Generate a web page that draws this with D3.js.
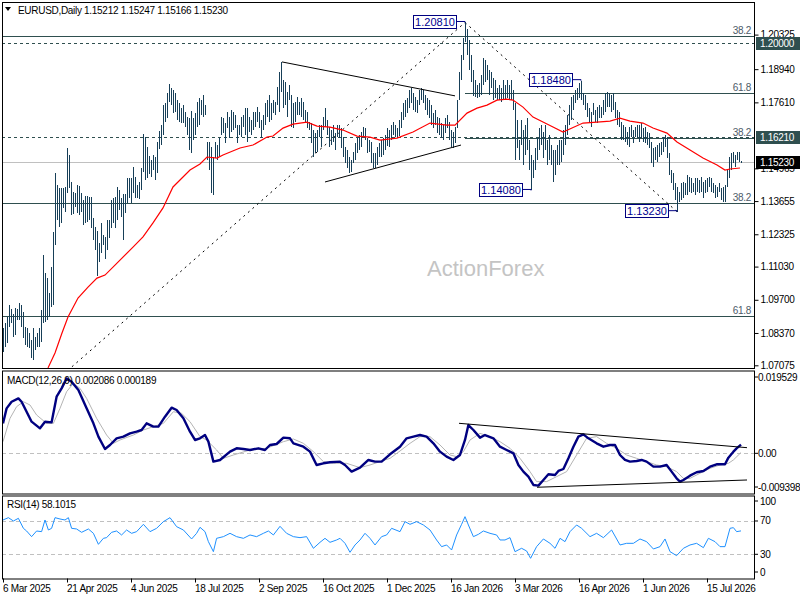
<!DOCTYPE html>
<html><head><meta charset="utf-8">
<script src="https://cdn.jsdelivr.net/npm/d3@7"></script>
<style>
body{margin:0;background:#fff}
svg text{font-family:"Liberation Sans",Arial,sans-serif;font-size:10px;letter-spacing:-0.3px}
</style></head><body>
<svg id="c" width="800" height="600"></svg>
<script>
// ---------- DATA ----------
const symbolTitle = "EURUSD,Daily";
const lastOHLC = [1.15212, 1.15247, 1.15166, 1.15230];
const highs = [
1.0857,1.0877,1.0901,1.0949,1.0933,1.0913,1.0937,1.0933,1.0957,1.0949,
1.0921,1.0861,1.0857,1.0837,1.0809,1.0857,1.0821,1.0837,1.0857,1.0929,
1.1149,1.1077,1.1057,1.0997,1.1101,1.1242,1.1478,1.1430,1.1418,1.1418,
1.1418,1.1422,1.1578,1.1550,1.1442,1.1402,1.1398,1.1430,1.1426,1.1398,
1.1370,1.1386,1.1386,1.1382,1.1382,1.1298,1.1262,1.1246,1.1198,1.1278,
1.1230,1.1222,1.1290,1.1290,1.1370,1.1378,1.1382,1.1422,1.1410,1.1378,
1.1394,1.1394,1.1458,1.1458,1.1458,1.1502,1.1462,1.1430,1.1442,1.1498,
1.1634,1.1622,1.1582,1.1546,1.1530,1.1550,1.1542,1.1602,1.1646,1.1670,
1.1750,1.1758,1.1799,1.1835,1.1819,1.1811,1.1799,1.1770,1.1758,1.1738,
1.1750,1.1722,1.1702,1.1698,1.1726,1.1698,1.1718,1.1762,1.1779,1.1770,
1.1791,1.1750,1.1602,1.1602,1.1582,1.1542,1.1602,1.1590,1.1618,1.1702,
1.1698,1.1678,1.1722,1.1702,1.1730,1.1722,1.1710,1.1670,1.1670,1.1702,
1.1710,1.1738,1.1738,1.1702,1.1690,1.1722,1.1722,1.1742,1.1722,1.1690,
1.1710,1.1758,1.1770,1.1791,1.1758,1.1770,1.1762,1.1823,1.1883,1.1923,
1.1851,1.1843,1.1803,1.1831,1.1791,1.1758,1.1762,1.1783,1.1762,1.1779,
1.1762,1.1730,1.1722,1.1682,1.1678,1.1650,1.1638,1.1650,1.1670,1.1670,
1.1702,1.1738,1.1690,1.1662,1.1650,1.1670,1.1638,1.1670,1.1670,1.1658,
1.1622,1.1582,1.1570,1.1542,1.1530,1.1562,1.1598,1.1618,1.1630,1.1642,
1.1662,1.1658,1.1618,1.1610,1.1602,1.1558,1.1558,1.1582,1.1598,1.1610,
1.1618,1.1630,1.1658,1.1650,1.1670,1.1682,1.1670,1.1658,1.1690,1.1722,
1.1758,1.1770,1.1779,1.1811,1.1819,1.1799,1.1783,1.1770,1.1811,1.1819,
1.1811,1.1791,1.1779,1.1770,1.1750,1.1718,1.1730,1.1702,1.1698,1.1678,
1.1670,1.1698,1.1710,1.1682,1.1650,1.1642,1.1662,1.1770,1.1883,1.1951,
1.2019,1.2081,1.2055,1.2011,1.1951,1.1891,1.1851,1.1831,1.1839,1.1871,
1.1939,1.1931,1.1911,1.1891,1.1883,1.1859,1.1851,1.1819,1.1831,1.1819,
1.1851,1.1831,1.1851,1.1831,1.1851,1.1811,1.1758,1.1690,1.1610,1.1690,
1.1650,1.1670,1.1698,1.1610,1.1550,1.1530,1.1578,1.1618,1.1658,1.1670,
1.1642,1.1670,1.1610,1.1630,1.1590,1.1570,1.1570,1.1590,1.1610,1.1610,
1.1650,1.1670,1.1710,1.1750,1.1783,1.1791,1.1811,1.1819,1.1839,1.1848,
1.1799,1.1791,1.1758,1.1738,1.1722,1.1758,1.1730,1.1742,1.1750,1.1742,
1.1770,1.1799,1.1803,1.1799,1.1791,1.1799,1.1762,1.1730,1.1722,1.1682,
1.1670,1.1662,1.1642,1.1662,1.1670,1.1650,1.1662,1.1670,1.1670,1.1678,
1.1658,1.1662,1.1642,1.1638,1.1602,1.1578,1.1582,1.1590,1.1598,1.1602,
1.1622,1.1630,1.1622,1.1558,1.1490,1.1478,1.1438,1.1422,1.1402,1.1438,
1.1442,1.1438,1.1470,1.1462,1.1458,1.1438,1.1458,1.1458,1.1450,1.1462,
1.1442,1.1450,1.1458,1.1462,1.1458,1.1438,1.1430,1.1422,1.1438,1.1418,
1.1422,1.1430,1.1490,1.1542,1.1558,1.1562,1.1550,1.1562,1.1562,1.15247];
const lows = [
1.0761,1.0781,1.0797,1.0861,1.0877,1.0821,1.0829,1.0889,1.0889,1.0861,
1.0817,1.0789,1.0781,1.0777,1.0737,1.0729,1.0769,1.0781,1.0781,1.0801,
1.0877,1.0881,1.0889,1.0901,1.0941,1.0949,1.1190,1.1290,1.1262,1.1278,
1.1338,1.1322,1.1398,1.1418,1.1310,1.1314,1.1342,1.1318,1.1310,1.1322,
1.1270,1.1278,1.1282,1.1290,1.1258,1.1210,1.1170,1.1065,1.1121,1.1157,
1.1190,1.1133,1.1170,1.1218,1.1258,1.1278,1.1258,1.1290,1.1330,1.1302,
1.1210,1.1318,1.1358,1.1378,1.1358,1.1398,1.1378,1.1378,1.1374,1.1410,
1.1482,1.1450,1.1458,1.1474,1.1462,1.1490,1.1450,1.1478,1.1574,1.1590,
1.1630,1.1682,1.1698,1.1762,1.1750,1.1718,1.1722,1.1690,1.1682,1.1678,
1.1678,1.1662,1.1630,1.1570,1.1558,1.1610,1.1630,1.1662,1.1670,1.1710,
1.1702,1.1710,1.1530,1.1490,1.1398,1.1390,1.1538,1.1530,1.1542,1.1630,
1.1638,1.1598,1.1658,1.1618,1.1642,1.1650,1.1658,1.1598,1.1630,1.1622,
1.1662,1.1630,1.1602,1.1642,1.1630,1.1650,1.1662,1.1682,1.1658,1.1618,
1.1650,1.1670,1.1702,1.1682,1.1690,1.1718,1.1710,1.1750,1.1722,1.1803,
1.1738,1.1750,1.1702,1.1770,1.1662,1.1658,1.1682,1.1710,1.1710,1.1702,
1.1690,1.1678,1.1658,1.1650,1.1598,1.1542,1.1558,1.1562,1.1622,1.1582,
1.1650,1.1662,1.1630,1.1582,1.1590,1.1602,1.1570,1.1622,1.1618,1.1578,
1.1542,1.1518,1.1498,1.1478,1.1482,1.1518,1.1530,1.1558,1.1570,1.1582,
1.1622,1.1610,1.1558,1.1562,1.1518,1.1498,1.1498,1.1510,1.1542,1.1542,
1.1550,1.1570,1.1586,1.1582,1.1610,1.1630,1.1622,1.1618,1.1626,1.1658,
1.1690,1.1702,1.1718,1.1738,1.1758,1.1730,1.1722,1.1718,1.1750,1.1770,
1.1758,1.1730,1.1710,1.1698,1.1670,1.1658,1.1670,1.1638,1.1630,1.1618,
1.1610,1.1638,1.1658,1.1610,1.1582,1.1578,1.1598,1.1658,1.1771,1.1851,
1.1931,1.2003,1.1951,1.1891,1.1843,1.1787,1.1783,1.1779,1.1783,1.1791,
1.1831,1.1843,1.1851,1.1791,1.1819,1.1771,1.1779,1.1771,1.1771,1.1762,
1.1771,1.1771,1.1779,1.1771,1.1771,1.1730,1.1530,1.1578,1.1530,1.1590,
1.1510,1.1550,1.1570,1.1490,1.1408,1.1458,1.1490,1.1530,1.1570,1.1590,
1.1538,1.1570,1.1510,1.1530,1.1510,1.1442,1.1470,1.1510,1.1510,1.1522,
1.1550,1.1590,1.1630,1.1670,1.1690,1.1730,1.1758,1.1770,1.1779,1.1770,
1.1750,1.1730,1.1702,1.1682,1.1662,1.1710,1.1682,1.1678,1.1698,1.1698,
1.1710,1.1722,1.1742,1.1742,1.1722,1.1730,1.1698,1.1670,1.1662,1.1610,
1.1610,1.1602,1.1590,1.1582,1.1622,1.1598,1.1622,1.1618,1.1602,1.1618,
1.1602,1.1598,1.1590,1.1578,1.1518,1.1502,1.1530,1.1522,1.1542,1.1550,
1.1562,1.1582,1.1538,1.1470,1.1438,1.1410,1.1370,1.1323,1.1362,1.1370,
1.1378,1.1390,1.1390,1.1402,1.1398,1.1402,1.1390,1.1402,1.1398,1.1402,
1.1378,1.1398,1.1402,1.1422,1.1402,1.1398,1.1378,1.1382,1.1402,1.1370,
1.1362,1.1362,1.1422,1.1458,1.1490,1.1518,1.1502,1.1530,1.1522,1.15166];

// moving average (red) read as [bar index, price]
const maLine = [[22.5,1.0697],[26,1.0757],[29.5,1.0837],[32.5,1.0901],[37.5,1.0977],[42.5,1.1021],[47,1.1057],[51,1.1069],[56,1.1109],[65,1.1181],[70,1.1222],[75,1.1278],[80,1.1338],[85,1.1422],[89.5,1.1458],[93.5,1.149],[98.5,1.1514],[102,1.1542],[107,1.1538],[110,1.155],[118.5,1.1578],[125,1.159],[132,1.1622],[135,1.1626],[140,1.1658],[145,1.1674],[152,1.1682],[157,1.1666],[163.5,1.1662],[170,1.165],[177,1.1626],[183.5,1.1622],[188.5,1.161],[197,1.1618],[205,1.1642],[213.5,1.1678],[222,1.167],[226,1.167],[232,1.1718],[237,1.1738],[242,1.175],[247,1.177],[252,1.1774],[255,1.177],[260,1.1742],[265,1.1702],[270,1.1682],[275,1.1662],[280,1.1642],[284.5,1.1658],[290,1.1678],[297,1.1682],[303.5,1.1686],[308.5,1.1698],[313.5,1.1686],[320,1.1678],[325,1.1658],[332,1.1638],[337,1.1602],[343.5,1.157],[350,1.1538],[357,1.151],[361,1.149],[363.5,1.1494],[368.5,1.1498]];

const macdMain = [[0,0.00717],[1.8,0.01076],[4.3,0.01235],[7.7,0.01315],[9.3,0.01235],[11.8,0.00996],[14.3,0.00757],[18.5,0.00598],[21,0.00757],[24.3,0.00741],[26.8,0.01355],[29.3,0.01554],[31.8,0.01793],[34.3,0.01714],[37.7,0.01514],[41.8,0.01076],[45.2,0.00717],[47.7,0.00399],[51,0.00104],[53.5,0.00199],[56.8,0.00359],[60.2,0.00399],[63.5,0.00478],[66.8,0.00518],[69.3,0.00558],[71.8,0.00717],[75.2,0.00638],[77.7,0.00638],[81,0.00877],[84.3,0.01092],[86.8,0.01036],[90.2,0.00837],[93.5,0.00518],[96,0.00319],[98.5,0.00359],[101,0.00438],[102.7,0.00279],[105.2,-0.00199],[108.5,-0.00159],[113.5,0.0004],[116.8,0.0012],[120.2,0.00104],[123.5,0.0008],[127.7,0.0012],[131,0.0008],[133.5,0.00199],[136.8,0.00223],[140.2,0.00375],[143.5,0.00359],[145.2,0.00239],[150.2,0.00159],[153.5,0.0004],[156.8,-0.00279],[160.2,-0.00239],[163.5,-0.00215],[168.5,-0.00199],[171,-0.00279],[174.3,-0.00438],[178.5,-0.00343],[182.7,-0.00159],[186,-0.00199],[189.3,-0.00199],[193.5,-0.00024],[198.5,0.00159],[201.8,0.00359],[205.2,0.00399],[208.5,0.00438],[211.8,0.00399],[215.2,0.00239],[218.5,0.0004],[221.8,-0.0008],[225.2,-0.00159],[228.5,-0.0004],[231,0.00319],[232.7,0.00677],[235.2,0.00558],[238.5,0.00375],[241,0.00438],[245.2,0.00359],[248.5,0.00159],[251.8,0.0008],[255.2,0],[257.7,-0.00279],[260.2,-0.00438],[262.7,-0.00558],[265.2,-0.00757],[267.7,-0.00773],[270.2,-0.00638],[272.7,-0.00502],[276,-0.00518],[277.7,-0.00422],[280.2,-0.00375],[282.7,-0.0012],[285.2,0.00159],[287.7,0.00399],[290.2,0.00454],[292.7,0.00359],[296.8,0.00239],[300.2,0.00159],[303.5,0.00199],[306,0.00199],[308.5,-0.0004],[311,-0.00159],[313.5,-0.00199],[316.8,-0.00183],[319.3,-0.00159],[321.8,-0.00199],[325.2,-0.00319],[328.5,-0.00319],[331.8,-0.00279],[334.3,-0.00438],[336.8,-0.00598],[338.5,-0.00677],[340.2,-0.00638],[343.5,-0.00534],[346.8,-0.00454],[350.2,-0.00422],[353.5,-0.00319],[356.8,-0.00263],[361,-0.00263],[362.7,-0.00104],[365.2,0.0004],[366.8,0.0012],[369,0.00209]];

const macdSignal = [[0,0.00279],[3.5,0.00837],[6.8,0.01116],[10.2,0.01235],[13.5,0.01156],[16.8,0.00917],[21.8,0.00717],[25.2,0.00717],[28.5,0.01076],[31.8,0.01474],[35.2,0.01674],[38.5,0.01554],[41.8,0.01315],[46.8,0.00837],[51.8,0.00438],[55.2,0.00239],[58.5,0.00319],[65.2,0.00438],[70.2,0.00558],[75.2,0.00638],[80.2,0.00717],[85.2,0.00996],[89.3,0.00956],[93.5,0.00757],[98.5,0.00399],[101.8,0.00319],[106.8,0.0008],[110.2,-0.0012],[115.2,-0.0004],[123.5,0.0008],[131.8,0.0012],[140.2,0.00279],[145.2,0.00343],[150.2,0.00239],[155.2,0.0004],[160.2,-0.00199],[165.2,-0.00239],[171.8,-0.00239],[178.5,-0.00343],[183.5,-0.00279],[188.5,-0.00199],[193.5,-0.0012],[198.5,0.00056],[203.5,0.00239],[208.5,0.00399],[213.5,0.00399],[218.5,0.00199],[223.5,-0.0004],[226.8,-0.0008],[230.2,0.0004],[233.5,0.00319],[238.5,0.00478],[243.5,0.00399],[248.5,0.00279],[253.5,0.0012],[258.5,-0.0012],[263.5,-0.00438],[266.8,-0.00677],[271.8,-0.00677],[276.8,-0.00558],[281.8,-0.00438],[286.8,-0.0004],[291.8,0.00359],[296.8,0.00399],[301.8,0.00239],[306.8,0.0012],[311.8,-0.0004],[316.8,-0.0012],[321.8,-0.00199],[326.8,-0.00279],[331.8,-0.00319],[336.8,-0.00438],[340.2,-0.00598],[343.5,-0.00598],[348.5,-0.00478],[353.5,-0.00359],[358.5,-0.00279],[362.7,-0.00239],[365.2,-0.00159],[369,0.00019]];

const rsiLine = [[0,71.2],[2.7,74],[5.2,70],[7.7,73.2],[10.2,61.2],[11.8,58],[14.3,51.2],[16.8,58],[19.3,57.2],[21,71.2],[22.7,59.2],[24.3,61.2],[26,74],[28.5,72.4],[31,71.2],[32.7,74],[34.3,61.2],[36.8,60.4],[39.3,56.4],[42.7,60.4],[45.2,55.2],[47.7,42],[50.2,49.2],[51.8,50],[54.3,56.4],[56.8,58],[59.3,53.2],[61.8,59.2],[64.3,55.2],[66.8,57.2],[70.2,66],[73.5,57.2],[76.8,61.2],[80.2,69.2],[83.5,74],[86.8,63.2],[90.2,59.2],[94.3,48.4],[96.8,55.2],[98.5,62.4],[101,57.2],[102.7,45.2],[105.2,33.2],[106.8,49.2],[110.2,51.2],[113.5,55.2],[116.8,51.2],[120.2,49.2],[123.5,53.2],[126.8,51.2],[130.2,55.2],[132.7,58],[135.2,53.2],[138.5,63.6],[141.8,55.2],[145.2,51.2],[148.5,50],[151.8,51.2],[155.2,37.2],[158.5,44.4],[161,49.2],[163.5,44.4],[166.8,47.2],[168.5,49.2],[171,43.2],[173.5,32.4],[176,41.2],[178.5,47.2],[181,55.2],[183.5,49.2],[186,41.2],[189.3,51.2],[191.8,53.2],[194.3,61.2],[198.5,57.2],[201,69.2],[203.5,66],[206.8,69.2],[210.2,65.2],[213.5,59.2],[216.8,47.2],[219.3,39.2],[221.8,41.2],[224.3,35.2],[226.8,53.2],[229.3,66],[231,75.2],[232.7,65.2],[235.2,51.2],[237.7,54],[240.2,58],[243.5,55.2],[246.8,53.2],[248.5,47.2],[251,47.2],[253.5,50],[256,33.2],[259.3,37.2],[261.8,34],[263.8,25.2],[266.8,39.2],[270.2,48.4],[273.5,43.2],[276,37.2],[278.5,49.2],[281,45.2],[283.5,57.2],[286.8,65.2],[289.3,61.2],[293.5,51.2],[296.8,55.2],[300.2,50],[304.3,59.2],[308.5,41.2],[311.8,43.2],[315.2,43.2],[318.5,48.4],[321.8,45.2],[325.2,36.4],[328.5,39.2],[331,48.4],[333.5,33.2],[336.8,28.4],[340.2,37.2],[343.5,41.2],[346.8,43.2],[350.2,38],[352.7,49.2],[356,45.2],[358.5,39.2],[361,39.2],[363.5,61.2],[365.2,62],[366.8,57.2],[369,58.1]];

const macdLabel = "MACD(12,26,9) 0.002086 0.000189";
const rsiLabel = "RSI(14) 58.1015";
const priceTicks = [1.20325,1.18940,1.17610,1.14965,1.13655,1.12325,1.11030,1.09700,1.08370,1.07075];
const macdTicks = [0.019529, 0, -0.009398];
const macdTickText = ["0.019529","0.00","-0.009398"];
const rsiTicks = [100,70,30,0];
const dateTicks = ["6 Mar 2025","21 Apr 2025","4 Jun 2025","18 Jul 2025","2 Sep 2025","16 Oct 2025","1 Dec 2025","16 Jan 2026","3 Mar 2026","16 Apr 2026","1 Jun 2026","15 Jul 2026"];
const holidays = ["2025-12-25","2026-01-01"];
const fiboLevels = [
  {price:1.2027,label:"38.2",start:0},
  {price:1.1797,label:"61.8",start:231},
  {price:1.1618,label:"38.2",start:231},
  {price:1.1357,label:"38.2",start:0},
  {price:1.0905,label:"61.8",start:0}];
const hLines = [{price:1.2000,text:"1.20000"},{price:1.1621,text:"1.16210"}];
const currentPrice = 1.15230;
const fiboDiagonals = [[[-40,1.0179],[231,1.2081]],[[231,1.2081],[337,1.1323]]];
const triangleLines = [[[139.5,1.1923],[226,1.1787]],[[161,1.1442],[229,1.1590]]];
const macdTrendLines = [[[228,0.00718],[372,0.00135]],[[267,-0.00812],[372,-0.00638]]];
const priceTags = [{i:231,price:1.2081,text:"1.20810"},{i:289,price:1.1848,text:"1.18480"},{i:264,price:1.1408,text:"1.14080"},{i:337,price:1.1323,text:"1.13230"}];

// ---------- LAYOUT ----------
const svg = d3.select("#c");
const L = 2, R = 754;
const P = {main:[2,368], macd:[370.5,493.5], rsi:[495.5,578.5]};
const x = d3.scaleLinear().domain([0,369]).range([3,741]);
const y = d3.scaleLinear().domain([1.07075,1.20325]).range([365.3,34.6]);
const ym = d3.scaleLinear().domain([-0.009398,0.019529]).range([492.6,371.7]);
const yr = d3.scaleLinear().domain([0,100]).range([579.3,496]);

const defs = svg.append("defs");
for (const k of Object.keys(P)) {
  defs.append("clipPath").attr("id","clip-"+k).append("rect")
    .attr("x",L).attr("y",P[k][0]).attr("width",R-L).attr("height",P[k][1]-P[k][0]);
}
svg.append("rect").attr("width",800).attr("height",600).attr("fill","#fff");

// dates
const dates = [];
{ let d = new Date(Date.UTC(2025,2,6));
  while (dates.length < highs.length) {
    const dow = d.getUTCDay(), s = d.toISOString().slice(0,10);
    if (dow!==0 && dow!==6 && !holidays.includes(s)) dates.push(new Date(d));
    d.setUTCDate(d.getUTCDate()+1);
  } }
const parse = d3.utcParse("%d %b %Y");

// ---------- MAIN PANEL ----------
const gm = svg.append("g").attr("clip-path","url(#clip-main)");
const slate = "#2f4f4f";
gm.selectAll("line.fib").data(fiboLevels).join("line")
  .attr("x1",d=>d.start===0?L:x(d.start)).attr("x2",R)
  .attr("y1",d=>Math.round(y(d.price))+0.5).attr("y2",d=>Math.round(y(d.price))+0.5)
  .attr("stroke",slate).attr("stroke-width",1);
gm.selectAll("text.fib").data(fiboLevels).join("text")
  .attr("x",R-3).attr("y",d=>Math.round(y(d.price))-2).attr("text-anchor","end")
  .attr("fill","#4d5b69").text(d=>d.label);
gm.selectAll("line.hl").data(hLines).join("line")
  .attr("x1",L).attr("x2",R)
  .attr("y1",d=>Math.round(y(d.price))+0.5).attr("y2",d=>Math.round(y(d.price))+0.5)
  .attr("stroke",slate).attr("stroke-dasharray","3,3");
gm.append("line").attr("x1",L).attr("x2",R)
  .attr("y1",Math.round(y(currentPrice))+0.5).attr("y2",Math.round(y(currentPrice))+0.5)
  .attr("stroke","#c0c0c0");
svg.append("text").attr("x",427).attr("y",276).attr("fill","#c4c4c4")
  .style("font-size","22px").style("letter-spacing","0px").text("ActionForex");
gm.selectAll("line.diag").data(fiboDiagonals).join("line")
  .attr("x1",d=>x(d[0][0])).attr("y1",d=>y(d[0][1])).attr("x2",d=>x(d[1][0])).attr("y2",d=>y(d[1][1]))
  .attr("stroke","#000").attr("stroke-dasharray","2,4");
gm.append("g").selectAll("line").data(highs).join("line")
  .attr("x1",(d,i)=>x(i)+0.5).attr("x2",(d,i)=>x(i)+0.5)
  .attr("y1",d=>Math.round(y(d))).attr("y2",(d,i)=>Math.max(Math.round(y(lows[i])),Math.round(y(d))+1))
  .attr("stroke","#173f58").attr("stroke-width",1).attr("shape-rendering","crispEdges");
gm.append("path").datum(maLine)
  .attr("d",d3.line().x(d=>x(d[0])).y(d=>y(d[1])))
  .attr("fill","none").attr("stroke","#ff0000").attr("stroke-width",1.2);
gm.selectAll("line.tri").data(triangleLines).join("line")
  .attr("x1",d=>x(d[0][0])).attr("y1",d=>y(d[0][1])).attr("x2",d=>x(d[1][0])).attr("y2",d=>y(d[1][1]))
  .attr("stroke","#000").attr("stroke-width",1);
const tagW = 43, tagH = 13;
const tg = gm.selectAll("g.tag").data(priceTags).join("g");
tg.append("polyline").attr("points",d=>{
    const xr = x(d.i)-9, cy = y(d.price)-1;
    return `${xr},${cy} ${x(d.i)},${cy} ${x(d.i)},${y(d.price)}`;})
  .attr("fill","none").attr("stroke","#000080");
tg.append("rect").attr("x",d=>x(d.i)-9-tagW+0.5).attr("y",d=>Math.round(y(d.price)-1-tagH/2)+0.5)
  .attr("width",tagW).attr("height",tagH).attr("fill","#fff").attr("stroke","#000080");
tg.append("text").attr("x",d=>x(d.i)-9-tagW/2+0.5).attr("y",d=>Math.round(y(d.price)-1-tagH/2)+11)
  .attr("text-anchor","middle").attr("fill","#000090")
  .style("font-size","11px").style("letter-spacing","0px").text(d=>d.text);

svg.append("path").attr("d","M5,7 L11,7 L8,11 Z").attr("fill","#000");
svg.append("text").attr("x",18).attr("y",14).attr("fill","#000")
  .text(symbolTitle+"  "+lastOHLC.map(v=>v.toFixed(5)).join(" "));

// ---------- MACD ----------
const gd = svg.append("g").attr("clip-path","url(#clip-macd)");
gd.append("line").attr("x1",L).attr("x2",R).attr("y1",Math.round(ym(0))+0.5).attr("y2",Math.round(ym(0))+0.5)
  .attr("stroke","#c0c0c0").attr("stroke-dasharray","4,3");
gd.append("path").datum(macdSignal).attr("d",d3.line().x(d=>x(d[0])).y(d=>ym(d[1])))
  .attr("fill","none").attr("stroke","#b4b4b4").attr("stroke-width",1);
gd.append("path").datum(macdMain).attr("d",d3.line().x(d=>x(d[0])).y(d=>ym(d[1])))
  .attr("fill","none").attr("stroke","#000080").attr("stroke-width",2.4).attr("stroke-linejoin","round");
gd.selectAll("line.tl").data(macdTrendLines).join("line")
  .attr("x1",d=>x(d[0][0])).attr("y1",d=>ym(d[0][1])).attr("x2",d=>x(d[1][0])).attr("y2",d=>ym(d[1][1]))
  .attr("stroke","#000");
svg.append("text").attr("x",7).attr("y",384).attr("fill","#000").text(macdLabel);

// ---------- RSI ----------
const gr = svg.append("g").attr("clip-path","url(#clip-rsi)");
gr.selectAll("line.lv").data([70,30]).join("line")
  .attr("x1",L).attr("x2",R).attr("y1",d=>Math.round(yr(d))+0.5).attr("y2",d=>Math.round(yr(d))+0.5)
  .attr("stroke","#c0c0c0").attr("stroke-dasharray","4,3");
gr.append("path").datum(rsiLine).attr("d",d3.line().x(d=>x(d[0])).y(d=>yr(d[1])))
  .attr("fill","none").attr("stroke","#1e90ff").attr("stroke-width",1);
svg.append("text").attr("x",7).attr("y",508).attr("fill","#000").text(rsiLabel);

// ---------- FRAMES ----------
for (const k of Object.keys(P)) {
  svg.append("rect").attr("x",L+0.5).attr("y",P[k][0]+0.5).attr("width",R-L).attr("height",P[k][1]-P[k][0])
    .attr("fill","none").attr("stroke","#000");
}

// ---------- RIGHT AXES ----------
const clampY = (v,a,b)=>Math.max(a,Math.min(b,v));
const axMain = d3.axisRight(y).tickValues(priceTicks).tickSize(4).tickPadding(2).tickFormat(d3.format(".5f"));
svg.append("g").attr("transform",`translate(${R+0.5},0)`).call(axMain)
  .call(g=>g.select(".domain").remove())
  .call(g=>g.selectAll("text").attr("font-family",null).attr("font-size",null).attr("fill","#000"));
const axMacd = svg.append("g");
axMacd.selectAll("line").data(macdTicks).join("line")
  .attr("x1",R).attr("x2",R+4).attr("y1",d=>clampY(ym(d),377,487)).attr("y2",d=>clampY(ym(d),377,487)).attr("stroke","#000");
axMacd.selectAll("text").data(macdTicks).join("text")
  .attr("x",R+4).attr("y",d=>clampY(ym(d),377,487)).attr("dy","0.35em").attr("fill","#000")
  .text((d,i)=>macdTickText[i]);
const axRsi = svg.append("g");
axRsi.selectAll("line").data(rsiTicks).join("line")
  .attr("x1",R).attr("x2",R+4).attr("y1",d=>clampY(yr(d),501,572)).attr("y2",d=>clampY(yr(d),501,572)).attr("stroke","#000");
axRsi.selectAll("text").data(rsiTicks).join("text")
  .attr("x",R+6).attr("y",d=>clampY(yr(d),501,572)).attr("dy","0.35em").attr("fill","#000").text(d=>d);

const boxes = hLines.map(d=>({price:d.price,text:d.text,fill:slate})).concat([{price:currentPrice,text:currentPrice.toFixed(5),fill:"#000"}]);
const bg = svg.selectAll("g.pb").data(boxes).join("g");
bg.append("rect").attr("x",R+2).attr("y",d=>Math.round(y(d.price))-6).attr("width",44).attr("height",13).attr("fill",d=>d.fill);
bg.append("text").attr("x",R+6).attr("y",d=>Math.round(y(d.price))+4).attr("fill","#fff").text(d=>d.text);

// ---------- X AXIS ----------
const tickIdx = dateTicks.map(s=>{const t=parse(s); return dates.findIndex(d=>+d===+t);});
const xg = svg.append("g");
xg.selectAll("line").data(tickIdx).join("line")
  .attr("x1",d=>x(d)+0.5).attr("x2",d=>x(d)+0.5).attr("y1",P.rsi[1]).attr("y2",P.rsi[1]+4).attr("stroke","#000");
xg.selectAll("text").data(tickIdx).join("text")
  .attr("x",d=>x(d)).attr("y",592).attr("fill","#000").text((d,i)=>dateTicks[i]);
</script>
</body></html>
